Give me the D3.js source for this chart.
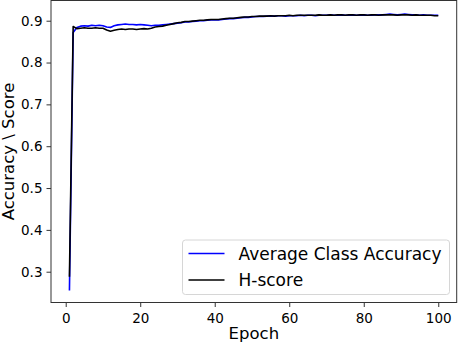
<!DOCTYPE html>
<html>
<head>
<meta charset="utf-8">
<script src="https://cdn.jsdelivr.net/npm/d3@7"></script>
<style>
  body { margin: 0; background: #fff; }
  text { font-family: "DejaVu Sans", sans-serif; fill: #000; }
</style>
</head>
<body>
<svg id="chart" width="460" height="346"></svg>
<script>
// epochs 1..100
var epochs = d3.range(1, 101);

// Average Class Accuracy (blue)
var accuracy = [
  0.255, 0.872, 0.884, 0.887, 0.888, 0.887, 0.889, 0.888, 0.889, 0.888,
  0.885, 0.884, 0.888, 0.890, 0.891, 0.892, 0.891, 0.891, 0.890, 0.891,
  0.890, 0.889, 0.888, 0.889, 0.889, 0.890, 0.891, 0.892, 0.893, 0.894,
  0.895, 0.897, 0.897, 0.898, 0.899, 0.900, 0.900, 0.901, 0.902, 0.902,
  0.902, 0.903, 0.904, 0.905, 0.905, 0.906, 0.907, 0.908, 0.908, 0.909,
  0.910, 0.910, 0.910, 0.911, 0.911, 0.911, 0.912, 0.912, 0.911, 0.912,
  0.912, 0.912, 0.913, 0.912, 0.913, 0.913, 0.912, 0.913, 0.913, 0.913,
  0.914, 0.913, 0.913, 0.914, 0.913, 0.913, 0.914, 0.913, 0.913, 0.914,
  0.913, 0.913, 0.914, 0.914, 0.914, 0.915, 0.916, 0.915, 0.914, 0.915,
  0.916, 0.915, 0.914, 0.914, 0.913, 0.914, 0.913, 0.913, 0.913, 0.913
];

// H-score (black)
var hscore = [
  0.288, 0.886, 0.881, 0.882, 0.883, 0.882, 0.882, 0.883, 0.882, 0.882,
  0.878, 0.875, 0.877, 0.879, 0.880, 0.879, 0.880, 0.880, 0.879, 0.880,
  0.881, 0.880, 0.882, 0.885, 0.886, 0.887, 0.889, 0.891, 0.893, 0.895,
  0.896, 0.898, 0.898, 0.899, 0.900, 0.901, 0.901, 0.902, 0.903, 0.903,
  0.903, 0.904, 0.905, 0.906, 0.906, 0.907, 0.908, 0.909, 0.909, 0.910,
  0.910, 0.911, 0.911, 0.911, 0.912, 0.911, 0.912, 0.912, 0.912, 0.913,
  0.912, 0.913, 0.913, 0.913, 0.913, 0.913, 0.913, 0.914, 0.913, 0.913,
  0.914, 0.913, 0.914, 0.914, 0.913, 0.914, 0.914, 0.913, 0.914, 0.914,
  0.913, 0.914, 0.914, 0.913, 0.914, 0.914, 0.914, 0.914, 0.913, 0.914,
  0.914, 0.914, 0.913, 0.914, 0.913, 0.913, 0.913, 0.913, 0.912, 0.912
];

var xTicks = [0, 20, 40, 60, 80, 100];
var yTicks = [0.3, 0.4, 0.5, 0.6, 0.7, 0.8, 0.9];

var seriesNames = ["Average Class Accuracy", "H-score"];
var seriesColors = ["#0000ff", "#000000"];

var svg = d3.select("#chart");

// plot area (pixels)
var plotL = 51, plotR = 456.7, plotT = 0.5, plotB = 302.5;

var x = d3.scaleLinear().domain([-3.95, 104.95]).range([plotL, plotR]);
var y = d3.scaleLinear().domain([0.2264, 0.9483]).range([plotB, plotT]);

// lines
var line = d3.line()
  .x(function(d) { return x(d[0]); })
  .y(function(d) { return y(d[1]); });

var series = [accuracy, hscore];
series.forEach(function(vals, i) {
  svg.append("path")
    .datum(epochs.map(function(e, j) { return [e, vals[j]]; }))
    .attr("fill", "none")
    .attr("stroke", seriesColors[i])
    .attr("stroke-width", 1.6)
    .attr("stroke-linejoin", "round")
    .attr("d", line);
});

// axes
var xAxis = d3.axisBottom(x).tickValues(xTicks).tickSize(4.5).tickPadding(6).tickFormat(d3.format("d"));
var yAxis = d3.axisLeft(y).tickValues(yTicks).tickSize(4.5).tickPadding(4).tickFormat(d3.format(".1f"));

var gx = svg.append("g").attr("transform", "translate(0," + plotB + ")").call(xAxis);
var gy = svg.append("g").attr("transform", "translate(" + plotL + ",0)").call(yAxis);
[gx, gy].forEach(function(g) {
  g.select(".domain").remove();
  g.selectAll(".tick line").attr("stroke", "#333").attr("stroke-width", 1);
  g.selectAll(".tick text").attr("font-size", 13.5).attr("font-family", "DejaVu Sans").attr("fill", "#000");
});

// frame
svg.append("rect")
  .attr("x", plotL).attr("y", plotT)
  .attr("width", plotR - plotL).attr("height", plotB - plotT)
  .attr("fill", "none").attr("stroke", "#333").attr("stroke-width", 1);

// axis labels
svg.append("text")
  .attr("x", (plotL + plotR) / 2).attr("y", 339)
  .attr("text-anchor", "middle").attr("font-size", 16.5)
  .text("Epoch");

svg.append("text")
  .attr("transform", "translate(13.5," + ((plotT + plotB) / 2) + ") rotate(-90)")
  .attr("text-anchor", "middle").attr("font-size", 16.5)
  .text("Accuracy \\ Score");

// legend
var lg = svg.append("g");
lg.append("rect")
  .attr("x", 182.5).attr("y", 240).attr("width", 267).attr("height", 54.5)
  .attr("rx", 3).attr("fill", "#fff").attr("fill-opacity", 0.8)
  .attr("stroke", "#d6d6d6").attr("stroke-width", 1);
seriesNames.forEach(function(name, i) {
  var ly = 253.5 + i * 26.5;
  lg.append("line")
    .attr("x1", 188.5).attr("x2", 224.5).attr("y1", ly).attr("y2", ly)
    .attr("stroke", seriesColors[i]).attr("stroke-width", 1.6);
  lg.append("text")
    .attr("x", 238.5).attr("y", ly + 6)
    .attr("font-size", 17)
    .text(name);
});
</script>
</body>
</html>
